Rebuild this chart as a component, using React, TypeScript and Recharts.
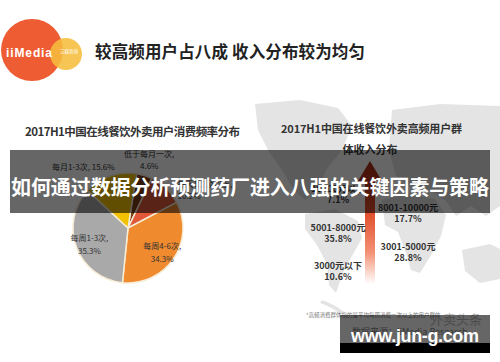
import React from 'react';
import { PieChart, Pie, Cell, ScatterChart, Scatter, XAxis, YAxis } from 'recharts';

// ---- Left chart: consumption frequency ----
const frequencyCategories = ['低于每月一次', '每天1次及以上', '每周4-6次', '每周1-3次', '每月1-3次'];
const frequencyShares = [4.6, 10.2, 34.3, 35.3, 15.6];
const frequencyColors = ['#7a3e14', '#e2593a', '#ef8a2f', '#a9a9a9', '#f2c200'];

// ---- Right chart: income of high-frequency users ----
const incomeLevels = ['10000元以上', '8001-10000元', '5001-8000元', '3001-5000元', '3000元以下'];
const incomeShares = [7.1, 17.7, 35.8, 28.8, 10.6];

// ---- Texts ----
const pageTitle = '较高频用户占八成 收入分布较为均匀';
const leftTitle = '2017H1中国在线餐饮外卖用户消费频率分布';
const rightTitleLines = ['2017H1中国在线餐饮外卖高频用户群', '体收入分布'];
const bannerText = '如何通过数据分析预测药厂进入八强的关键因素与策略';
const footnote = '*高频消费群体指的是平均每周消费一次以上的用户群体';
const sourceText = '数据来源：iiMedia Research';
const watermark = 'www.jun-g.com';

const CJK = '"Noto Sans CJK SC", "Noto Sans", sans-serif';

const frequencyTable = frequencyCategories.map((name, i) => ({ name, value: frequencyShares[i] }));
const incomeTable = incomeLevels.map((level, i) => ({ level, share: incomeShares[i], rank: i, x: 0 }));

const RAD = Math.PI / 180;

const renderPieLabel = (props: any) => {
  const { cx, cy, midAngle, outerRadius, value, name } = props;
  const cos = Math.cos(-midAngle * RAD);
  const sin = Math.sin(-midAngle * RAD);
  const style = { fontFamily: CJK, fontSize: 8, fill: '#333' };
  if (value >= 20) {
    const r = outerRadius * 0.75;
    const x = cx + r * cos;
    const y = cy + r * sin;
    return (
      <text x={x} y={y} textAnchor="middle" style={style}>
        <tspan x={x} dy={-2}>{name},</tspan>
        <tspan x={x} dy={13}>{value}%</tspan>
      </text>
    );
  }
  const r = outerRadius * 1.3;
  const x = cx + r * cos;
  const y = cy + r * sin;
  const dx = x - cx;
  if (dx < 0) {
    return (
      <text x={x + 10} y={y + 10} textAnchor="end" style={style}>
        {name}, {value}%
      </text>
    );
  }
  if (dx > r * 0.4) {
    return (
      <text x={x} y={y} textAnchor="start" style={style}>
        <tspan x={x} dy={11}>{name},</tspan>
        <tspan x={x} dy={12}>{value}%</tspan>
      </text>
    );
  }
  return (
    <text x={x} y={y} textAnchor="middle" style={style}>
      <tspan x={x} dy={-3}>{name},</tspan>
      <tspan x={x} dy={12}>{value}%</tspan>
    </text>
  );
};

const renderIncomeLabel = (props: any) => {
  const { cx, cy, payload } = props;
  const i = incomeLevels.indexOf(payload.level);
  const x = i % 2 === 0 ? cx - 32 : cx + 38;
  const style = { fontFamily: CJK, fontSize: 9, fontWeight: 700, fill: '#333' };
  return (
    <g>
      <text x={x} y={cy - 5.5} textAnchor="middle" dominantBaseline="central" style={style}>
        {payload.level}
      </text>
      <text x={x} y={cy + 5.5} textAnchor="middle" dominantBaseline="central" style={style}>
        {payload.share}%
      </text>
    </g>
  );
};

export default function App() {
  return (
    <div
      style={{
        position: 'absolute',
        left: 0,
        top: 0,
        width: 500,
        height: 362,
        background: '#fff',
        overflow: 'hidden',
        fontFamily: CJK,
      }}
    >
      {/* background decorations */}
      <svg width={500} height={362} style={{ position: 'absolute', left: 0, top: 0 }}>
        <defs>
          <linearGradient id="arrowGrad" x1="0" y1="161" x2="0" y2="284" gradientUnits="userSpaceOnUse">
            <stop offset="0" stopColor="#a82a15" />
            <stop offset="0.43" stopColor="#e0502e" />
            <stop offset="0.74" stopColor="#f39074" />
            <stop offset="1" stopColor="#ffffff" />
          </linearGradient>
        </defs>
        {/* faint world map */}
        <g fill="#e4e4e4">
          <path d="M255,104 L300,100 L338,108 L352,126 L342,150 L326,170 L318,190 L305,200 L294,190 L282,170 L268,150 L258,130 Z" />
          <path d="M305,214 L335,209 L358,221 L362,238 L352,256 L343,273 L336,293 L329,285 L327,264 L317,245 L305,229 Z" />
          <path d="M382,200 L410,194 L435,199 L446,215 L441,236 L431,255 L420,273 L411,270 L405,250 L398,232 L385,225 Z" />
          <path d="M392,110 L440,104 L500,106 L500,206 L486,216 L471,206 L456,216 L446,201 L430,190 L410,186 L396,176 L389,150 Z" />
          <path d="M462,250 L490,244 L500,249 L500,279 L480,283 L465,271 Z" />
          <path d="M322,300 Q334,304 344,312 L340,314 Q332,307 320,303 Z" />
        </g>
        {/* arrow */}
        <polygon
          points="370,161 382,181 375,181 375,284 365,284 365,181 358,181"
          fill="url(#arrowGrad)"
        />
        {/* logo */}
        <circle cx={32} cy={50} r={31} fill="#ee5c33" />
        <circle cx={66} cy={54} r={16} fill="#f6bd3c" opacity={0.88} />
        <text x={6} y={57} fill="#fff" textLength={46} style={{ fontFamily: 'Liberation Sans, Arial, sans-serif', fontSize: 12, fontWeight: 700 }}>
          iiMedia
        </text>
        <text x={60} y={53} fill="#fff" style={{ fontFamily: CJK, fontSize: 4.5 }}>
          艾媒咨询
        </text>
        {/* titles */}
        <text x={95} y={51} dominantBaseline="central" fill="#222" textLength={270} style={{ fontFamily: CJK, fontSize: 16.5, fontWeight: 700 }}>
          {pageTitle}
        </text>
        <text x={25} y={131} dominantBaseline="central" fill="#333" textLength={215} style={{ fontFamily: CJK, fontSize: 11.5, fontWeight: 700 }}>
          {leftTitle}
        </text>
        <text x={281} y={128} dominantBaseline="central" fill="#333" textLength={181} style={{ fontFamily: CJK, fontSize: 11, fontWeight: 700 }}>
          {rightTitleLines[0]}
        </text>
        <text x={370} y={149} textAnchor="middle" dominantBaseline="central" fill="#333" style={{ fontFamily: CJK, fontSize: 11, fontWeight: 700 }}>
          {rightTitleLines[1]}
        </text>
      </svg>

      {/* left pie */}
      <div style={{ position: 'absolute', left: 0, top: 0 }}>
        <PieChart width={250} height={362} margin={{ top: 0, right: 0, bottom: 0, left: 0 }}>
          <Pie
            data={frequencyTable}
            dataKey="value"
            nameKey="name"
            cx={128}
            cy={228}
            outerRadius={55}
            startAngle={81}
            endAngle={-279}
            stroke="#f7ecd5"
            strokeWidth={1.5}
            label={renderPieLabel}
            labelLine={false}
            isAnimationActive={false}
          >
            {frequencyTable.map((d, i) => (
              <Cell key={d.name} fill={frequencyColors[i]} />
            ))}
          </Pie>
        </PieChart>
      </div>

      {/* right labels along the arrow */}
      <div style={{ position: 'absolute', left: 250, top: 0 }}>
        <ScatterChart width={250} height={362} margin={{ top: 184, right: 10, bottom: 81, left: 0 }}>
          <XAxis type="number" dataKey="x" domain={[-1, 1]} hide />
          <YAxis type="number" dataKey="rank" domain={[-0.5, 4.5]} reversed hide />
          <Scatter data={incomeTable} shape={renderIncomeLabel} isAnimationActive={false} />
        </ScatterChart>
      </div>

      {/* overlays */}
      <svg width={500} height={362} style={{ position: 'absolute', left: 0, top: 0, pointerEvents: 'none' }}>
        <rect x={10} y={150} width={480} height={63} fill="rgba(0,0,0,0.6)" />
        <text x={250} y={186} textAnchor="middle" dominantBaseline="central" fill="#fff" textLength={478} style={{ fontFamily: CJK, fontSize: 20, fontWeight: 700 }}>
          {bannerText}
        </text>
        <text x={306} y={317} fill="#777" style={{ fontFamily: CJK, fontSize: 5.5 }}>
          {footnote}
        </text>
        <text x={430} y={324} fill="#bbb" style={{ fontFamily: CJK, fontSize: 13 }}>
          外卖头条
        </text>
        <text x={352} y={335} fill="#888" style={{ fontFamily: CJK, fontSize: 9 }}>
          {sourceText}
        </text>
        <rect x={340} y={315} width={150} height={28} fill="rgba(0,0,0,0.6)" />
        <rect x={340} y={343} width={150} height={10} fill="#000" />
        <text x={415} y={342} textAnchor="middle" fill="#fff" textLength={128} style={{ fontFamily: 'Liberation Sans, Arial, sans-serif', fontSize: 18, fontWeight: 700 }}>
          {watermark}
        </text>
      </svg>
    </div>
  );
}
